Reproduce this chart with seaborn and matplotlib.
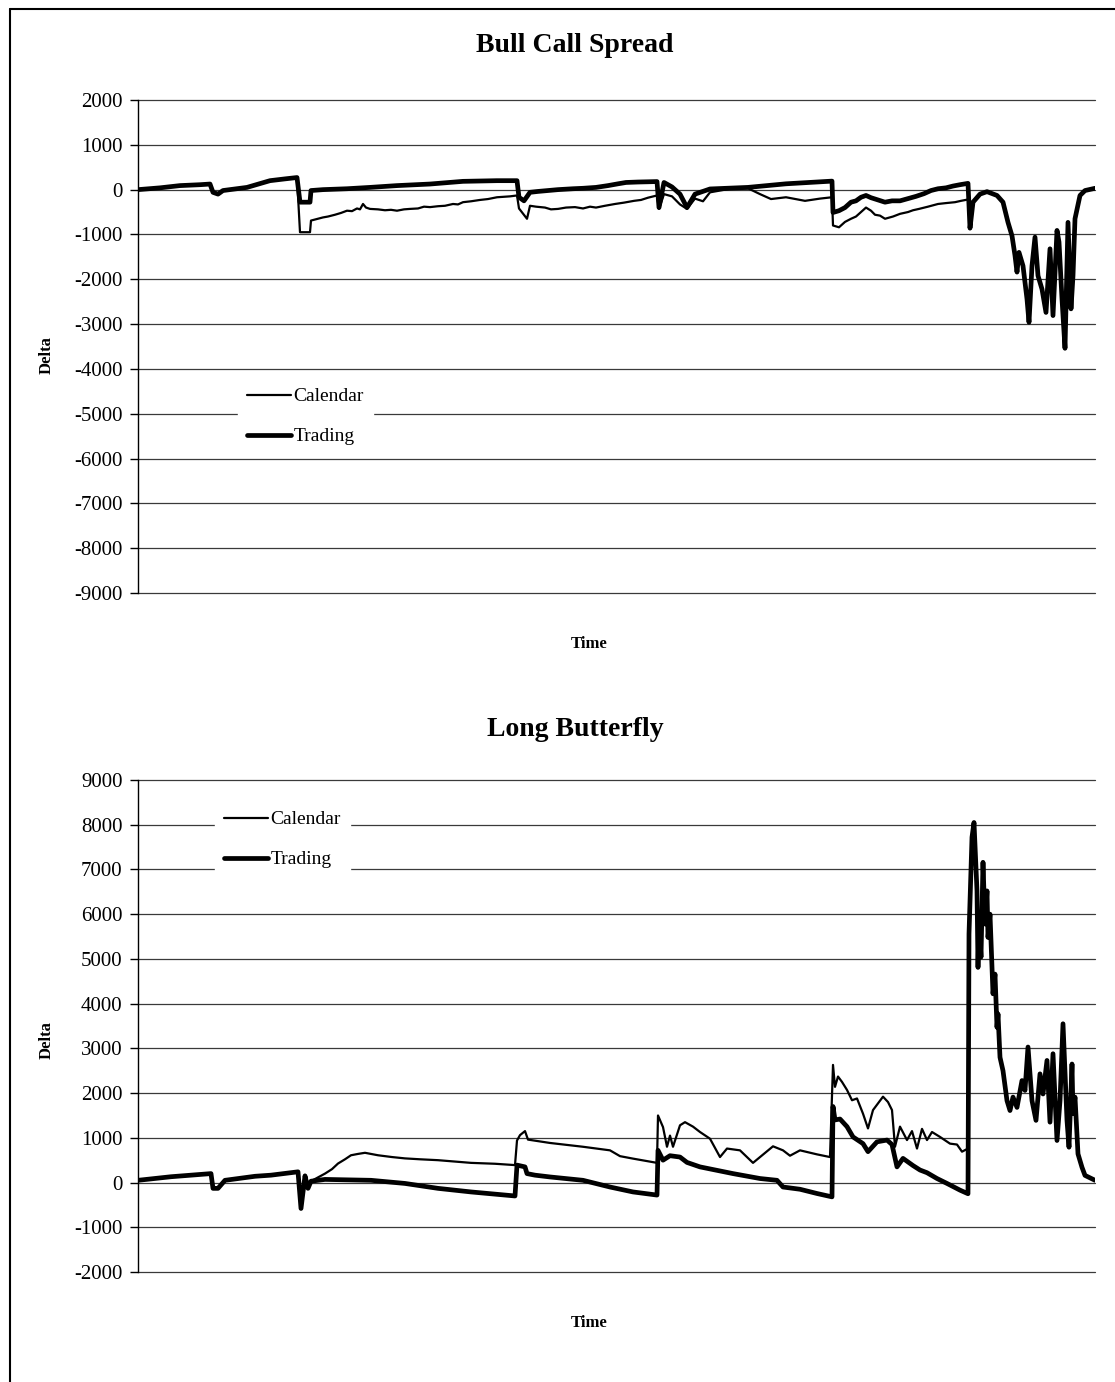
import numpy as np
import pandas as pd
import matplotlib
matplotlib.use("Agg")
import matplotlib.pyplot as plt
from matplotlib.lines import Line2D
import seaborn as sns

# ---- Bull Call Spread (time in trading days, delta) ----
bull_start_day = [0, 22, 42, 62, 72, 75, 80, 85, 109, 132, 147, 159]
bull_start_val = [0, 40, 90, 110, 125, -60, -100, -20, 50, 200, 240, 270]

bull_cal_day = [162, 172, 173, 180, 185, 190, 197, 203, 209, 214, 219, 222, 225, 228,
                232, 240, 247, 253, 259, 266, 272, 280, 286, 292, 300, 307, 315, 320,
                325, 333, 342, 350, 359, 366, 372, 379,
                381, 389, 392, 398, 407, 413, 420, 428, 437, 445, 452, 458, 467, 477,
                486, 496, 503, 510, 519,
                521, 526, 534, 542, 549, 557, 565, 572, 591, 610, 622, 633, 648, 667,
                682, 694,
                695, 701, 707, 713, 718, 722, 728, 733, 737, 742, 747, 755, 762, 770,
                775, 781, 790, 800, 808, 817, 823, 830]
bull_cal_val = [-950, -950, -690, -650, -620, -600, -560, -520, -470, -480, -420, -440,
                -320, -400, -430, -440, -460, -450, -470, -440, -430, -420, -380, -390,
                -370, -360, -320, -330, -280, -260, -230, -210, -170, -160, -150, -130,
                -420, -650, -360, -380, -400, -440, -430, -400, -390, -420, -380, -400,
                -360, -320, -290, -250, -230, -180, -130,
                -430, -100, -150, -330, -430, -200, -260, -60, 15, 30, -100, -210, -170,
                -250, -200, -170,
                -800, -840, -720, -650, -600, -520, -400, -470, -560, -580, -650, -600,
                -540, -500, -460, -430, -380, -320, -300, -280, -250, -220]

bull_trd_day = [162, 172, 173, 185, 209, 232, 259, 292, 325, 359, 379,
                381, 386, 392, 400, 410, 420, 435, 445, 458, 470, 480, 488, 500, 510, 519,
                521, 526, 534, 542, 549, 557, 572, 610, 648, 694,
                695, 701, 707, 713, 718, 723, 728, 733, 740, 747, 754, 762, 770, 778,
                786, 793, 800, 808, 815, 822, 830]
bull_trd_val = [-280, -280, -20, 0, 20, 50, 90, 125, 185, 200, 200,
                -170, -250, -60, -40, -20, 0, 20, 30, 50, 90, 130, 160, 170, 175, 180,
                -400, 160, 60, -100, -400, -100, 15, 50, 130, 190,
                -510, -470, -400, -280, -250, -170, -130, -180, -230, -280, -250, -250,
                -200, -150, -90, -20, 20, 40, 80, 110, 140]

bull_end_day = [832, 835, 842, 849, 859, 865, 870, 874, 877, 879, 881, 885, 889, 891,
                894, 897, 900, 904, 908, 912, 915, 919, 921, 924, 927, 930, 933, 935,
                937, 942, 947, 957]
bull_end_val = [-860, -280, -100, -45, -130, -280, -730, -1030, -1470, -1840, -1400,
                -1700, -2440, -2960, -1700, -1060, -1920, -2220, -2740, -1320, -2810,
                -910, -1170, -2440, -3540, -730, -2660, -1920, -650, -130, -20, 30]

# ---- Long Butterfly ----
fly_start_day = [0, 33, 73, 75, 80, 87, 117, 133, 160, 163, 167, 170, 173]
fly_start_val = [50, 130, 200, -130, -130, 50, 140, 165, 240, -580, 150, -130, 30]

fly_cal_day = [187, 194, 200, 207, 213, 220, 227, 240, 254, 267, 282, 300, 317, 333,
               357, 377, 379, 382, 387, 390, 412, 445, 472, 482, 495, 519, 520, 525,
               529, 532, 535, 542, 547, 555, 562, 572, 582, 589, 602, 615, 629, 635,
               645, 652, 662, 679, 692, 695, 697, 700, 704, 709, 714, 719, 725, 730,
               735, 745, 750, 754, 757, 762, 769, 774, 779, 784, 789, 794, 802, 812,
               819, 824, 830]
fly_cal_val = [200, 300, 425, 520, 610, 640, 665, 610, 570, 540, 520, 500, 470, 440,
               420, 390, 940, 1060, 1150, 960, 885, 800, 720, 590, 535, 440, 1500, 1240,
               800, 1050, 800, 1280, 1350, 1250, 1130, 980, 570, 760, 720, 440, 700, 810,
               720, 600, 720, 630, 570, 2630, 2140, 2370, 2250, 2070, 1840, 1880, 1540,
               1210, 1620, 1920, 1800, 1620, 800, 1250, 950, 1150, 760, 1200, 950, 1130,
               1020, 870, 850, 690, 760]

fly_trd_day = [187, 233, 267, 300, 333, 377, 379, 387, 389, 397, 412, 445, 472, 495,
               519, 520, 525, 532, 542, 549, 562, 595, 622, 639, 645, 662, 679, 694,
               695, 697, 702, 709, 715, 725, 730, 739, 749, 754, 759, 765, 775, 782,
               789, 799, 809, 822, 830]
fly_trd_val = [70, 50, -20, -130, -210, -300, 390, 350, 200, 165, 125, 50, -100, -210,
               -280, 720, 500, 600, 570, 450, 350, 200, 90, 50, -100, -150, -245, -320,
               1700, 1400, 1420, 1250, 1020, 870, 690, 910, 950, 850, 350, 540, 380, 280,
               220, 90, -20, -170, -250]

fly_end_day = [831, 834, 836, 839, 840, 841, 843, 845, 847, 849, 850, 852, 855, 857,
               859, 860, 862, 865, 869, 872, 875, 879, 884, 887, 890, 894, 898, 902,
               905, 909, 912, 915, 919, 922, 925, 929, 931, 934, 935, 937, 940, 944,
               947, 957]
fly_end_val = [5560, 7720, 8050, 6520, 4810, 5850, 5040, 7160, 5780, 6520, 5480, 6000,
               4220, 4660, 3470, 3770, 2800, 2500, 1830, 1610, 1910, 1680, 2280, 2060,
               3030, 1830, 1390, 2430, 1980, 2730, 1350, 2880, 940, 1830, 3550, 1390,
               790, 2650, 1540, 1910, 640, 340, 160, 50]


def build(start_d, start_v, cal_d, cal_v, trd_d, trd_v, end_d, end_v):
    frames = []
    for name, d, v in [("Calendar", cal_d, cal_v), ("Trading", trd_d, trd_v)]:
        frames.append(pd.DataFrame({
            "Time": start_d + d + end_d,
            "Delta": start_v + v + end_v,
            "Series": name,
        }))
    return pd.concat(frames, ignore_index=True)


bull_df = build(bull_start_day, bull_start_val, bull_cal_day, bull_cal_val,
                bull_trd_day, bull_trd_val, bull_end_day, bull_end_val)
fly_df = build(fly_start_day, fly_start_val, fly_cal_day, fly_cal_val,
               fly_trd_day, fly_trd_val, fly_end_day, fly_end_val)

sns.set_style("white")
plt.rcParams["font.family"] = ["Liberation Serif", "DejaVu Serif"]
plt.rcParams["axes.unicode_minus"] = False
plt.rcParams["text.color"] = "black"
plt.rcParams["ytick.color"] = "black"
plt.rcParams["xtick.color"] = "black"
plt.rcParams["axes.labelcolor"] = "black"

W, H = 1115, 1382
fig = plt.figure(figsize=(W / 100, H / 100), dpi=100)
fig.patch.set_facecolor("white")

# figure border (left and top edges)
fig.add_artist(Line2D([9.5 / W, 9.5 / W], [0, 1 - 8.5 / H], color="black", lw=1.5,
                      transform=fig.transFigure))
fig.add_artist(Line2D([9.5 / W, 1], [1 - 8.5 / H, 1 - 8.5 / H], color="black", lw=1.5,
                      transform=fig.transFigure))

panels = [
    dict(df=bull_df, title="Bull Call Spread", top=100, bottom=593, ylim=(-9000, 2000),
         title_y=45, xlabel_y=644, ylabel_y=355, leg=(238, 379)),
    dict(df=fly_df, title="Long Butterfly", top=780, bottom=1272, ylim=(-2000, 9000),
         title_y=730, xlabel_y=1323, ylabel_y=1040, leg=(215, 802)),
]

left, right = 138, 1095
for p in panels:
    ax = fig.add_axes([left / W, 1 - p["bottom"] / H, (right - left) / W,
                       (p["bottom"] - p["top"]) / H])
    df = p["df"]
    sns.lineplot(data=df[df["Series"] == "Calendar"], x="Time", y="Delta", ax=ax,
                 color="black", linewidth=1.6, estimator=None, sort=False,
                 label="Calendar")
    sns.lineplot(data=df[df["Series"] == "Trading"], x="Time", y="Delta", ax=ax,
                 color="black", linewidth=3.4, estimator=None, sort=False,
                 label="Trading")
    ax.set_xlim(0, 957)
    ax.set_ylim(*p["ylim"])
    ax.set_yticks(np.arange(p["ylim"][0], p["ylim"][1] + 1, 1000))
    ax.set_xticks([])
    ax.grid(axis="y", color="#3a3a3a", linewidth=0.9)
    for gl in ax.get_ygridlines():
        gl.set_clip_on(False)
    ax.set_axisbelow(True)
    for s in ["top", "right", "bottom"]:
        ax.spines[s].set_visible(False)
    ax.spines["left"].set_color("black")
    ax.spines["left"].set_linewidth(1.0)
    ax.tick_params(axis="y", direction="out", length=6, width=1, pad=5,
                   labelsize=15, color="black", labelcolor="black", left=True)
    ax.set_xlabel("")
    ax.set_ylabel("")

    lx, ly = p["leg"]
    ax.legend(loc="upper left",
              bbox_to_anchor=((lx - left) / (right - left),
                              1 - (ly - p["top"]) / (p["bottom"] - p["top"])),
              frameon=True, fancybox=False, framealpha=1, facecolor="white",
              edgecolor="white", fontsize=14, handlelength=2.3,
              handletextpad=0.1, labelspacing=1.15, borderaxespad=0,
              borderpad=0.45)

    fig.text(575 / W, 1 - p["title_y"] / H, p["title"], ha="center", va="center",
             fontsize=20, fontweight="bold")
    fig.text(589 / W, 1 - p["xlabel_y"] / H, "Time", ha="center", va="center",
             fontsize=12, fontweight="bold")
    fig.text(47 / W, 1 - p["ylabel_y"] / H, "Delta", ha="center", va="center",
             fontsize=12, fontweight="bold", rotation=90)

fig.savefig("out.png", dpi=100)
